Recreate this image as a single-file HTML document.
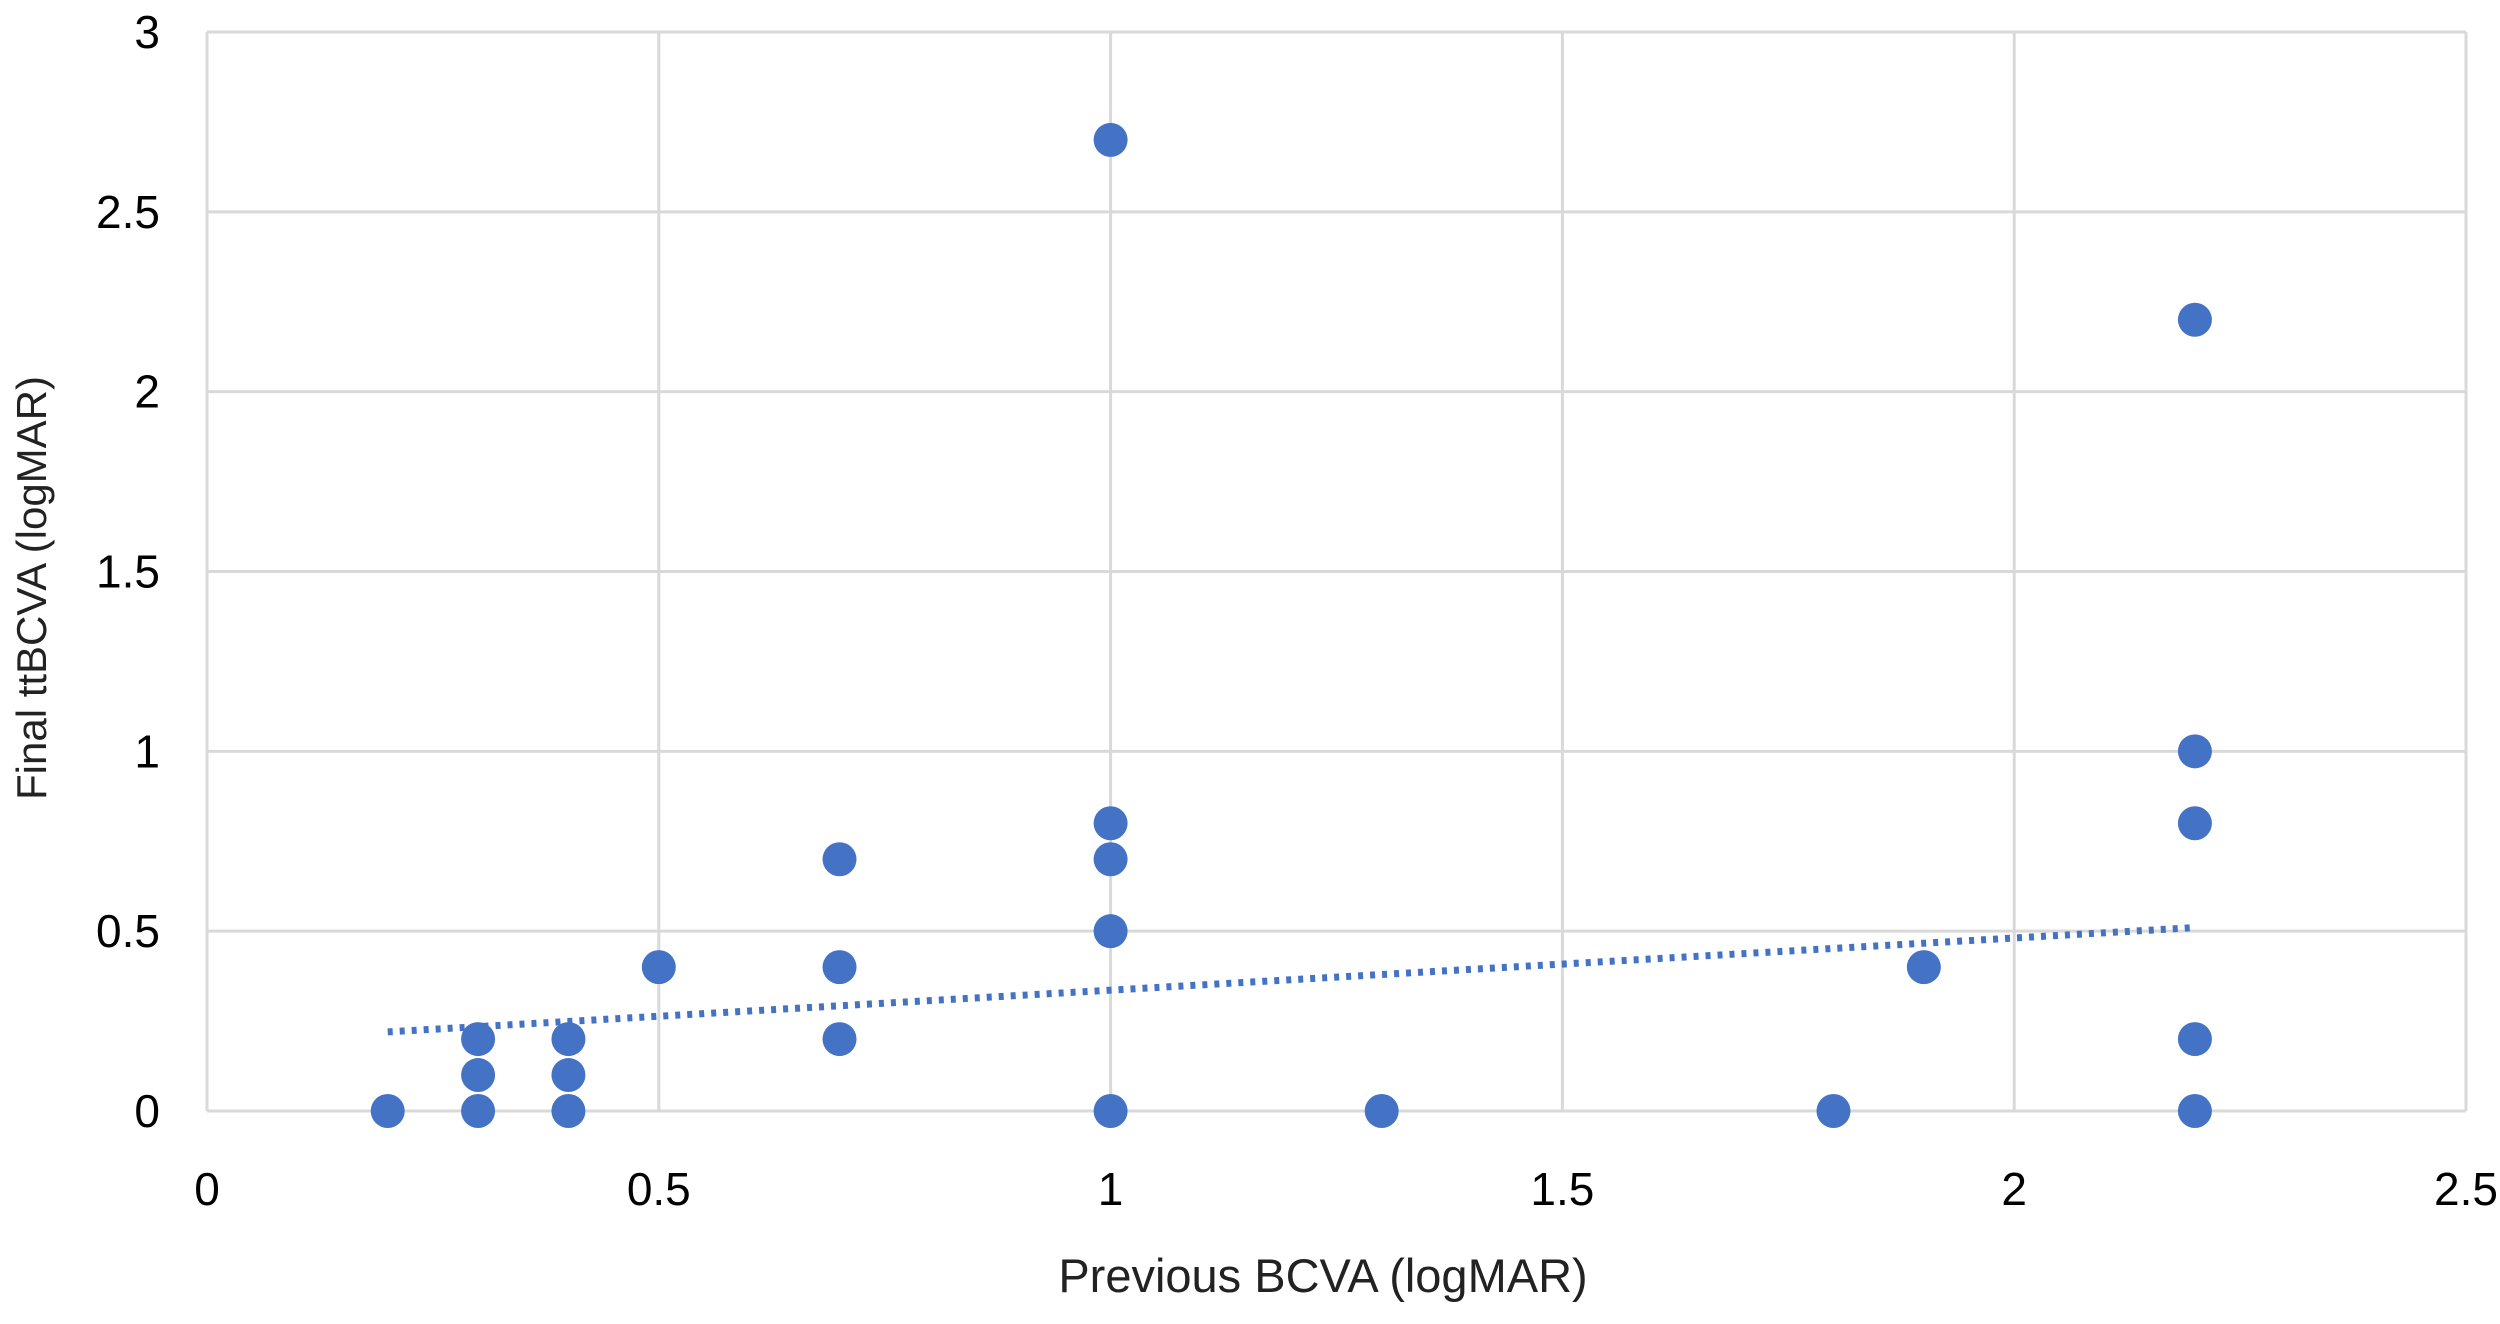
<!DOCTYPE html>
<html><head><meta charset="utf-8"><style>
html,body{margin:0;padding:0;background:#fff;}
svg{display:block;font-family:"Liberation Sans",sans-serif;}
</style></head><body>
<svg id="chart" width="2500" height="1324" viewBox="0 0 2500 1324"></svg>
<script>
const xValues=[0.2,0.3,0.3,0.3,0.4,0.4,0.4,0.5,0.7,0.7,0.7,1,1,1,1,1,1.3,1.8,1.9,2.2,2.2,2.2,2.2,2.2];
const yValues=[0,0,0.1,0.2,0,0.1,0.2,0.4,0.2,0.4,0.7,0,0.5,0.7,0.8,2.7,0,0,0.4,0,0.2,0.8,1.0,2.2];
const xTicks=[0,0.5,1,1.5,2,2.5];
const yTicks=[0,0.5,1,1.5,2,2.5,3];
const trendX=[0.2,2.2];
const trendY=[0.22,0.51];
const NS="http://www.w3.org/2000/svg";
const svg=document.getElementById('chart');
const L=207,R=2466,T=32,B=1111;
function sx(v){return L+(v-0)/(2.5-0)*(R-L);}
function sy(v){return B-(v-0)/(3-0)*(B-T);}
function mk(tag,attrs,parent){const e=document.createElementNS(NS,tag);for(const k in attrs)e.setAttribute(k,attrs[k]);(parent||svg).appendChild(e);return e;}
const grid=mk('g',{});


xTicks.forEach(t=>{
  const l=mk('line',{x1:sx(t),x2:sx(t),y1:T,y2:B,stroke:'#d9d9d9','stroke-width':3},grid);
  
  
  const tx=mk('text',{x:sx(t),y:1205,'text-anchor':'middle','font-size':46,fill:'#000'});
  
  
  tx.textContent=t;
});
yTicks.forEach(t=>{
  const l=mk('line',{x1:L,x2:R,y1:sy(t),y2:sy(t),stroke:'#d9d9d9','stroke-width':3},grid);
  
  
  const tx=mk('text',{x:160,y:sy(t)+16,'text-anchor':'end','font-size':46,fill:'#000'});
  
  
  tx.textContent=t;
});
const trend=mk('line',{x1:sx(trendX[0]),y1:sy(trendY[0]),x2:sx(trendX[1]),y2:sy(trendY[1]),stroke:'#4472C4','stroke-width':7,'stroke-dasharray':'5 7'});


xValues.forEach((x,i)=>{
  const c=mk('circle',{cx:sx(x),cy:sy(yValues[i]),r:17,fill:'#4472C4'});
  
  
});
const xt=mk('text',{x:1323,y:1292,'text-anchor':'middle','font-size':47,fill:'#222'});


xt.textContent='Previous BCVA (logMAR)';
const yt=mk('text',{x:0,y:0,'text-anchor':'middle','font-size':42,fill:'#222',transform:'translate(46,588) rotate(-90)'});


yt.textContent='Final ttBCVA (logMAR)';
</script>
</body></html>
